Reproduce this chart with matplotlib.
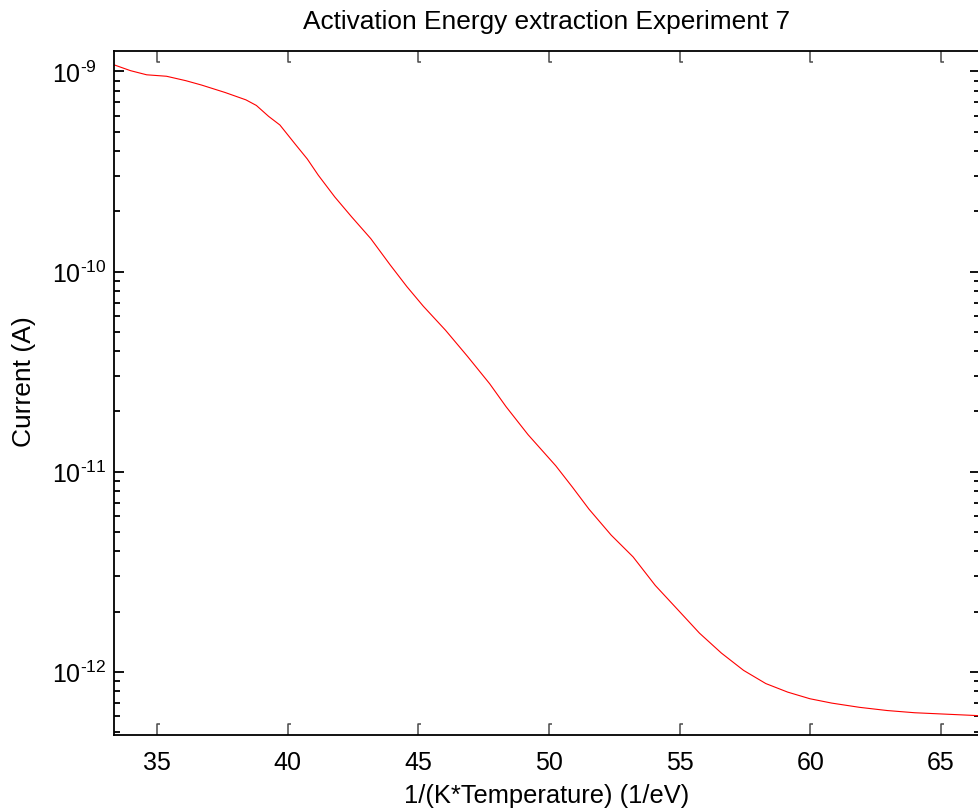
import matplotlib
matplotlib.use("Agg")
import matplotlib.pyplot as plt
from matplotlib.path import Path
from matplotlib.ticker import FixedLocator, NullFormatter

# Measured current versus inverse thermal energy
inv_kT = [33.35, 33.98, 34.6, 35.36, 36.1, 36.7, 37.6, 38.4, 38.8, 39.27,
          39.7, 40.3, 40.75, 41.17, 41.8, 42.44, 43.18, 43.92, 44.56, 45.19,
          46.04, 46.88, 47.73, 48.36, 49.2, 50.26, 50.9, 51.53, 52.38, 53.22,
          54.07, 54.92, 55.76, 56.6, 57.45, 58.3, 59.14, 59.99, 60.83, 61.89,
          62.95, 64.0, 65.06, 66.5]
current_A = [1.079e-9, 1.009e-9, 9.62e-10, 9.46e-10, 8.99e-10, 8.55e-10,
             7.85e-10, 7.21e-10, 6.76e-10, 5.96e-10, 5.40e-10, 4.31e-10,
             3.65e-10, 3.03e-10, 2.36e-10, 1.88e-10, 1.46e-10, 1.08e-10,
             8.41e-11, 6.71e-11, 5.09e-11, 3.77e-11, 2.75e-11, 2.11e-11,
             1.53e-11, 1.07e-11, 8.36e-12, 6.50e-12, 4.82e-12, 3.75e-12,
             2.70e-12, 2.05e-12, 1.56e-12, 1.24e-12, 1.016e-12, 8.73e-13,
             7.91e-13, 7.33e-13, 6.97e-13, 6.64e-13, 6.40e-13, 6.24e-13,
             6.15e-13, 6.03e-13]

x_ticks = [35, 40, 45, 50, 55, 60, 65]
y_ticks = [1e-12, 1e-11, 1e-10, 1e-9]
y_tick_labels = [r"$\mathdefault{10^{\text{-12}}}$",
                 r"$\mathdefault{10^{\text{-11}}}$",
                 r"$\mathdefault{10^{\text{-10}}}$",
                 r"$\mathdefault{10^{\text{-9}}}$"]
x_limits = (33.35, 66.5)
y_limits = (4.83e-13, 1.265e-9)

plt.rcParams["font.family"] = ["Liberation Sans", "DejaVu Sans"]
plt.rcParams["mathtext.fontset"] = "custom"
plt.rcParams["mathtext.rm"] = "Liberation Sans"
plt.rcParams["mathtext.it"] = "Liberation Sans:italic"
plt.rcParams["mathtext.bf"] = "Liberation Sans:bold"

W, H = 979, 812
fig = plt.figure(figsize=(W / 100, H / 100), dpi=100)
left, right, top, bottom = 114, 980, 52, 736
ax = fig.add_axes([left / W, (H - bottom) / H, (right - left) / W, (bottom - top) / H])

ax.plot(inv_kT, current_A, color="#ff0000", lw=0.8)

ax.set_yscale("log")
ax.set_xlim(*x_limits)
ax.set_ylim(*y_limits)

ax.set_xticks(x_ticks)
ax.set_xticklabels([str(t) for t in x_ticks])
ax.set_yticks(y_ticks)
ax.set_yticklabels(y_tick_labels)
minor = [m * 10.0 ** e for e in range(-13, -8) for m in range(2, 10)]
ax.yaxis.set_minor_locator(FixedLocator(minor))
ax.yaxis.set_minor_formatter(NullFormatter())
ax.xaxis.set_minor_locator(FixedLocator([]))

for s in ax.spines.values():
    s.set_linewidth(1.3)
    s.set_color("black")

ax.tick_params(axis="x", which="major", direction="in", top=True, bottom=True,
               length=7.2, width=1.0, color="#505050", labelsize=18, pad=10.5)
ax.tick_params(axis="y", which="major", direction="in", left=True, right=True,
               length=7.5, width=1.3, color="black", labelsize=18, pad=44.6)
ax.tick_params(axis="y", which="minor", direction="in", left=True, right=True,
               length=4.5, width=1.3, color="black")
for lbl in ax.get_yticklabels():
    lbl.set_horizontalalignment("left")

# hooked tick marks on the x axis
hook_up = Path([(0, 0), (0, 1), (0.25, 1)], [Path.MOVETO, Path.LINETO, Path.LINETO])
hook_down = Path([(0, 0), (0, -1), (0.25, -1)], [Path.MOVETO, Path.LINETO, Path.LINETO])
for t in ax.xaxis.get_major_ticks():
    for line, mk in ((t.tick1line, hook_up), (t.tick2line, hook_down)):
        line.set_marker(mk)
        line.set_markersize(15.5)
        line.set_fillstyle("none")
        line.set_markeredgewidth(1.1)
        line.set_markeredgecolor("#4a4a4a")

ax.set_title("Activation Energy extraction Experiment 7", fontsize=18.9, pad=16.5)
ax.set_xlabel("1/(K*Temperature) (1/eV)", fontsize=18.4, labelpad=7)
ax.set_ylabel("Current (A)", fontsize=19)
ax.yaxis.set_label_coords((36 - left) / (right - left), 0.5175)

fig.savefig("out.png", dpi=100)
